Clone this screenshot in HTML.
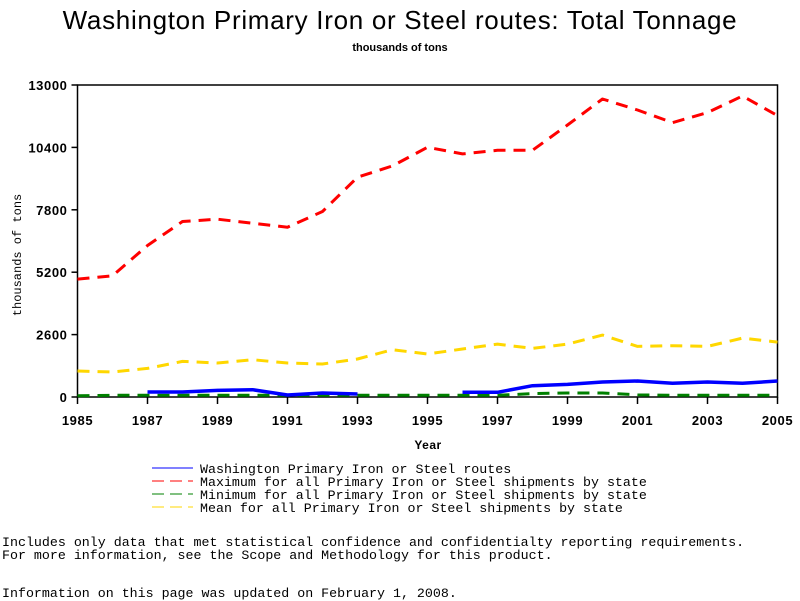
<!DOCTYPE html>
<html><head><meta charset="utf-8"><style>
body{margin:0;background:#fff;width:800px;height:600px;overflow:hidden;position:relative;font-family:"Liberation Sans",sans-serif}
.t{position:absolute;white-space:pre}
.mono{font-family:"Liberation Mono",monospace;font-size:13.3px;color:#000}
</style></head><body>
<div class="t" style="left:0;width:800px;text-align:center;top:5px;font-size:26px;letter-spacing:0.7px">Washington Primary Iron or Steel routes: Total Tonnage</div>
<div class="t" style="left:0;width:800px;text-align:center;top:42px;font-size:11px;font-weight:bold">thousands of tons</div>
<svg id="chart" width="800" height="600" style="position:absolute;left:0;top:0"></svg>
<div class="t mono" style="left:2px;top:535px">Includes only data that met statistical confidence and confidentialty reporting requirements.</div>
<div class="t mono" style="left:2px;top:548px">For more information, see the Scope and Methodology for this product.</div>
<div class="t mono" style="left:2px;top:586px">Information on this page was updated on February 1, 2008.</div>
<script>
const years=[1985,1986,1987,1988,1989,1990,1991,1992,1993,1994,1995,1996,1997,1998,1999,2000,2001,2002,2003,2004,2005];
const waValues=[null,null,208,208,277,305,83,166,125,null,null,194,194,472,527,624,666,569,624,569,666];
const maxValues=[4911,5050,6313,7312,7409,7242,7076,7728,9157,9629,10406,10128,10281,10281,11335,12417,11959,11432,11848,12542,11724];
const minValues=[50,70,70,70,70,70,70,70,70,70,70,70,70,140,166,166,90,70,70,70,70];
const meanValues=[1082,1040,1193,1485,1415,1554,1415,1374,1582,1970,1790,1998,2206,2026,2206,2581,2109,2137,2109,2456,2289];
const yTicks=[0,2600,5200,7800,10400,13000];
const xTickLabels=[1985,1987,1989,1991,1993,1995,1997,1999,2001,2003,2005];
const L=77.5,R=777.5,T=85,B=397;
const x=v=>L+(v-1985)/(2005-1985)*(R-L);
const y=v=>B-v/13000*(B-T);
const svg=document.getElementById('chart');
const NS='http://www.w3.org/2000/svg';
function mk(tag,attrs,parent){const e=document.createElementNS(NS,tag);for(const k in attrs)e.setAttribute(k,attrs[k]);(parent||svg).appendChild(e);return e;}
const frame=mk('rect',{x:L,y:T,width:R-L,height:B-T,fill:'none',stroke:'#000','stroke-width':1.5});


yTicks.forEach(v=>{
  const tk=mk('line',{x1:L-6,x2:L,y1:y(v),y2:y(v),stroke:'#000','stroke-width':1.5});
  
  
  const tx=mk('text',{x:L-10,y:y(v)+5,'text-anchor':'end','font-size':13,'font-weight':'bold','font-family':'Liberation Sans, sans-serif','letter-spacing':'0.6'});
  tx.textContent=v;
  
  
});
xTickLabels.forEach(v=>{
  const tk=mk('line',{x1:x(v),x2:x(v),y1:B,y2:B+7,stroke:'#000','stroke-width':1.5});
  
  
  const tx=mk('text',{x:x(v),y:B+28,'text-anchor':'middle','font-size':13,'font-weight':'bold','font-family':'Liberation Sans, sans-serif','letter-spacing':'0.6'});
  tx.textContent=v;
  
  
});
const xt=mk('text',{x:428,y:449,'text-anchor':'middle','font-size':12,'font-weight':'bold','font-family':'Liberation Sans, sans-serif','letter-spacing':'0.5'});
xt.textContent='Year';


const yt=mk('text',{x:0,y:0,'text-anchor':'middle','font-size':12,'font-family':'Liberation Mono, monospace','transform':'translate(21,255) rotate(-90)'});
yt.textContent='thousands of tons';


function series(vals,color,w,dash,name){
  let d='',pen=false;
  vals.forEach((v,i)=>{if(v==null){pen=false;return;}d+=(pen?'L':'M')+x(years[i]).toFixed(1)+','+y(v).toFixed(1);pen=true;});
  const p=mk('path',{d:d,fill:'none',stroke:color,'stroke-width':w,'stroke-dasharray':dash||'none','stroke-linejoin':'round'});
  
  
}
series(minValues,'#008000',3,'12,8','minimum-line');
series(meanValues,'#ffd700',3,'12,8','mean-line');
series(maxValues,'#ff0000',3,'12,8','maximum-line');
series(waValues,'#0000ff',3.5,null,'washington-line');
const legend=[['#0000ff','','Washington Primary Iron or Steel routes','legend-entry-washington'],
['#ff0000','12,6','Maximum for all Primary Iron or Steel shipments by state','legend-entry-maximum'],
['#008000','12,6','Minimum for all Primary Iron or Steel shipments by state','legend-entry-minimum'],
['#ffd700','12,6','Mean for all Primary Iron or Steel shipments by state','legend-entry-mean']];
legend.forEach((e,i)=>{
  const yy=468+i*13;
  const g=mk('g',{});
  
  
  mk('line',{x1:152,x2:193,y1:yy,y2:yy,stroke:e[0],'stroke-width':1,'stroke-dasharray':e[1]||'none'},g);
  const t=mk('text',{x:200,y:yy+5,'font-size':13.3,'font-family':'Liberation Mono, monospace'},g);
  t.textContent=e[2];
});
</script>
</body></html>
